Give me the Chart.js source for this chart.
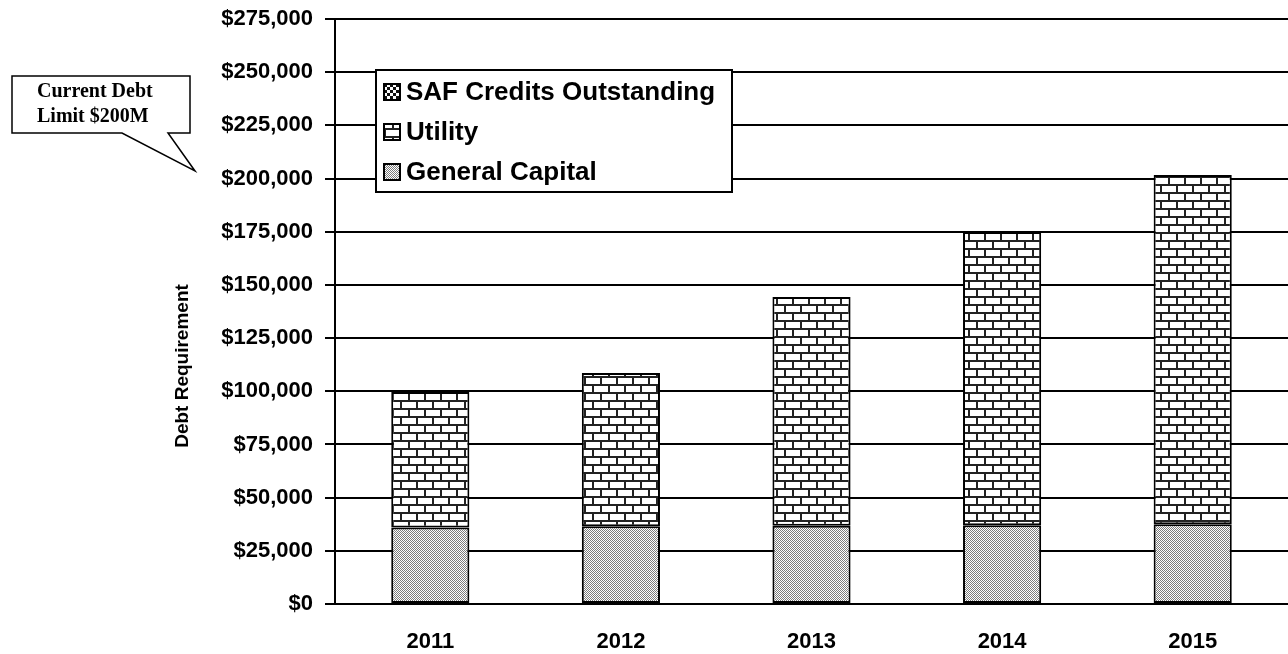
<!DOCTYPE html>
<html>
<head>
<meta charset="utf-8">
<script src="https://cdn.jsdelivr.net/npm/chart.js@4.4.1/dist/chart.umd.min.js"></script>
<style>
  html, body { margin: 0; padding: 0; background: #ffffff; }
  #wrap { position: relative; width: 1288px; height: 654px; }
</style>
</head>
<body>
<div id="wrap"><canvas id="c" width="1288" height="654"></canvas></div>
<script>
// ---- Data ----
const categories = ['2011', '2012', '2013', '2014', '2015'];
const generalCapital = [36000, 36500, 36800, 37000, 37500];
const utility = [63700, 72100, 107500, 137900, 164200];
const safCredits = [0, 0, 0, 0, 0];
const yMax = 275000;
const yStep = 25000;
const seriesNames = ['General Capital', 'Utility', 'SAF Credits Outstanding'];
const calloutLines = ['Current Debt', 'Limit $200M'];
const yTitle = 'Debt Requirement';

// ---- Patterns ----
function makePattern(w, h, draw) {
  const cv = document.createElement('canvas');
  cv.width = w; cv.height = h;
  const g = cv.getContext('2d');
  draw(g, w, h);
  return document.getElementById('c').getContext('2d').createPattern(cv, 'repeat');
}
const grayDither = makePattern(2, 2, (g) => {
  g.fillStyle = '#ffffff'; g.fillRect(0, 0, 2, 2);
  g.fillStyle = '#7c7c7c'; g.fillRect(0, 0, 1, 1); g.fillRect(1, 1, 1, 1);
});
const brick = makePattern(16, 16, (g) => {
  g.fillStyle = '#ffffff'; g.fillRect(0, 0, 16, 16);
  g.fillStyle = '#222222';
  g.fillRect(0, 0, 16, 2);
  g.fillRect(0, 8, 16, 2);
  g.fillRect(0, 2, 2, 6);
  g.fillRect(8, 10, 2, 6);
});
const checker = makePattern(6, 6, (g) => {
  g.fillStyle = '#ffffff'; g.fillRect(0, 0, 6, 6);
  g.fillStyle = '#111111'; g.fillRect(0, 0, 3, 3); g.fillRect(3, 3, 3, 3);
});

// ---- Plugins ----
const customLegend = {
  id: 'customLegend',
  afterDraw(chart) {
    const ctx = chart.ctx;
    ctx.save();
    const bx = 376, by = 70, bw = 356, bh = 122;
    ctx.fillStyle = '#ffffff';
    ctx.fillRect(bx, by, bw, bh);
    ctx.lineWidth = 2;
    ctx.strokeStyle = '#000000';
    ctx.strokeRect(bx, by, bw, bh);
    const items = chart.data.datasets.slice().reverse();
    const rowsY = [92, 132, 172];
    ctx.font = 'bold 26px "Liberation Sans", Arial, sans-serif';
    ctx.textBaseline = 'middle';
    ctx.textAlign = 'left';
    items.forEach((ds, i) => {
      const cy = rowsY[i];
      ctx.fillStyle = ds.backgroundColor;
      ctx.fillRect(384, cy - 8, 16, 16);
      ctx.lineWidth = 2;
      ctx.strokeStyle = '#000000';
      ctx.strokeRect(384, cy - 8, 16, 16);
      ctx.fillStyle = '#000000';
      ctx.fillText(ds.label, 406, cy + 1);
    });
    ctx.restore();
  }
};

const axisTitle = {
  id: 'axisTitle',
  afterDraw(chart) {
    const ctx = chart.ctx;
    ctx.save();
    ctx.translate(183, 366);
    ctx.rotate(-Math.PI / 2);
    ctx.fillStyle = '#000000';
    ctx.font = 'bold 19px "Liberation Sans", Arial, sans-serif';
    ctx.textAlign = 'center';
    ctx.textBaseline = 'middle';
    ctx.fillText(yTitle, 0, 0);
    ctx.restore();
  }
};

const callout = {
  id: 'callout',
  afterDraw(chart) {
    const ctx = chart.ctx;
    ctx.save();
    ctx.beginPath();
    ctx.moveTo(12, 76);
    ctx.lineTo(190, 76);
    ctx.lineTo(190, 133);
    ctx.lineTo(168, 133);
    ctx.lineTo(195, 171);
    ctx.lineTo(122, 133);
    ctx.lineTo(12, 133);
    ctx.closePath();
    ctx.fillStyle = '#ffffff';
    ctx.fill();
    ctx.lineWidth = 1.5;
    ctx.strokeStyle = '#000000';
    ctx.stroke();
    ctx.fillStyle = '#000000';
    ctx.font = 'bold 20px "Liberation Serif", "Times New Roman", serif';
    ctx.textAlign = 'left';
    ctx.textBaseline = 'alphabetic';
    ctx.fillText(calloutLines[0], 37, 97);
    ctx.fillText(calloutLines[1], 37, 122);
    ctx.restore();
  }
};

// ---- Chart ----
const tickFont = { family: '"Liberation Sans", Arial, sans-serif', size: 22, weight: 'bold' };

new Chart(document.getElementById('c'), {
  type: 'bar',
  data: {
    labels: categories,
    datasets: [
      { label: seriesNames[0], data: generalCapital, backgroundColor: grayDither, borderColor: '#000000', borderWidth: 2, borderSkipped: false },
      { label: seriesNames[1], data: utility, backgroundColor: brick, borderColor: '#000000', borderWidth: 2, borderSkipped: false },
      { label: seriesNames[2], data: safCredits, backgroundColor: checker, borderColor: '#000000', borderWidth: 0, borderSkipped: false }
    ]
  },
  options: {
    responsive: false,
    animation: false,
    devicePixelRatio: 1,
    layout: { padding: { top: 19, right: 0, bottom: 0, left: 0 } },
    datasets: { bar: { barPercentage: 0.41, categoryPercentage: 1.0 } },
    plugins: {
      legend: { display: false },
      tooltip: { enabled: false },
      title: { display: false }
    },
    scales: {
      x: {
        stacked: true,
        grid: { display: false, drawTicks: false },
        border: { display: true, color: '#000000', width: 2 },
        ticks: { color: '#000000', font: tickFont, padding: 25, maxRotation: 0 },
        afterFit(scale) { scale.height = 50; scale.paddingLeft = 0; scale.paddingRight = 0; }
      },
      y: {
        stacked: true,
        min: 0,
        max: yMax,
        grid: { color: '#000000', lineWidth: 2, drawTicks: true, tickLength: 10, tickColor: '#000000' },
        border: { display: true, color: '#000000', width: 2 },
        ticks: {
          stepSize: yStep,
          color: '#000000',
          font: tickFont,
          padding: 12,
          callback: (v) => '$' + Number(v).toLocaleString('en-US')
        },
        title: { display: false },
        afterFit(scale) { scale.width = 335; scale.paddingTop = 0; scale.paddingBottom = 0; }
      }
    }
  },
  plugins: [customLegend, axisTitle, callout]
});
</script>
</body>
</html>
